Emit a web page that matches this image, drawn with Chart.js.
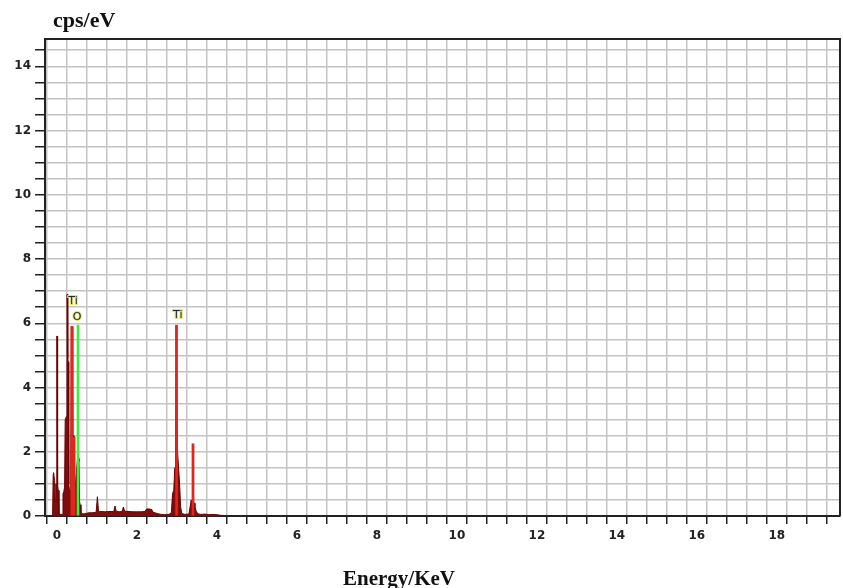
<!DOCTYPE html>
<html><head><meta charset="utf-8">
<style>html,body{margin:0;padding:0;background:#fff;overflow:hidden}#wrap{width:843px;height:588px;position:relative}</style>
<script src="https://cdn.jsdelivr.net/npm/chart.js@4"></script>
</head><body><div id="wrap"><canvas id="c" width="843" height="588"></canvas></div>
<script>
// Spectrum (energy in keV, counts in cps/eV)
const energy = [-0.30,-0.11,-0.095,-0.085,-0.06,-0.045,-0.03,-0.015,-0.005,0.005,
  0.015,0.03,0.05,0.13,0.15,0.17,0.19,0.205,0.215,0.235,
  0.25,0.26,0.27,0.28,0.29,0.30,0.31,0.33,0.345,0.36,
  0.38,0.395,0.41,0.425,0.44,0.46,0.48,0.50,0.515,0.535,
  0.55,0.565,0.58,0.60,0.65,0.72,0.80,0.90,0.98,1.01,
  1.025,1.04,1.10,1.20,1.30,1.42,1.45,1.48,1.55,1.63,
  1.66,1.69,1.80,1.90,2.00,2.10,2.20,2.24,2.30,2.37,
  2.40,2.50,2.60,2.70,2.80,2.86,2.89,2.92,2.945,2.965,
  2.98,2.995,3.01,3.025,3.045,3.07,3.09,3.12,3.20,3.30,
  3.33,3.355,3.38,3.395,3.405,3.415,3.43,3.45,3.48,3.52,
  3.60,3.70,3.80,3.90,4.00,4.10,4.30,5.0,6.0,8.0,
  10.0,12.0,14.0,16.0,18.0,19.58];
const cps = [0,0,1.3,1.35,1.1,0.4,1.0,1.0,5.6,5.6,
  1.0,0.8,0.05,0.05,0.7,0.75,0.9,3.0,3.0,3.1,
  6.9,6.9,4.9,4.8,1.2,1.0,0.8,0.8,1.6,5.9,
  5.9,2.5,2.5,2.4,1.2,0.9,1.3,1.3,1.8,1.8,
  1.7,0.45,0.35,0.1,0.06,0.08,0.1,0.1,0.12,0.6,
  0.6,0.13,0.14,0.13,0.14,0.14,0.31,0.15,0.13,0.14,
  0.28,0.15,0.14,0.13,0.13,0.13,0.14,0.22,0.22,0.2,
  0.12,0.08,0.05,0.04,0.05,0.1,0.7,0.8,1.5,1.5,
  5.94,5.94,2.1,2.1,1.4,0.9,0.3,0.08,0.05,0.06,
  0.3,0.5,0.35,2.2,2.2,0.45,0.4,0.3,0.15,0.07,
  0.05,0.06,0.04,0.05,0.04,0.02,0.01,0.01,0.01,0.01,
  0.01,0.01,0.01,0.01,0.01,0.01];

// Element marker lines
const tiLineEnergy = [0.37, 0.43, 2.99, 3.40];
const tiLineCps = [5.9, 2.45, 5.94, 2.25];
const oLineEnergy = [0.525];
const oLineCps = [5.94];

// Peak labels
const peakLabels = ['Ti', 'O', 'Ti'];
const peakLabelEnergy = [0.40, 0.50, 3.02];
const peakLabelCps = [6.69, 6.19, 6.25];

// Axis ticks (every 0.5, labelled every 2)
const xTickValues = [];
for (let i = 0; i <= 39; i++) xTickValues.push(i * 0.5);
const yTickValues = [];
for (let i = 0; i <= 29; i++) yTickValues.push(i * 0.5);

const yTitle = 'cps/eV';
const xTitle = 'Energy/KeV';

const toXY = (xs, ys) => xs.map((x, i) => ({x: x, y: ys[i]}));
const isMajor = v => Math.abs(v - Math.round(v / 2) * 2) < 1e-6;
const tickFont = {family: 'DejaVu Sans', weight: 'bold', size: 12};

const framePlugin = {
  id: 'frame',
  afterDraw(chart) {
    const {ctx, chartArea: a} = chart;
    ctx.save();
    ctx.strokeStyle = '#222';
    ctx.lineWidth = 2;
    ctx.beginPath();
    ctx.moveTo(a.left, a.top);
    ctx.lineTo(a.right, a.top);
    ctx.lineTo(a.right, a.bottom);
    ctx.stroke();
    ctx.restore();
  }
};

const textPlugin = {
  id: 'texts',
  afterDraw(chart) {
    const {ctx, scales} = chart;
    ctx.save();
    ctx.fillStyle = '#111';
    ctx.textBaseline = 'alphabetic';
    ctx.textAlign = 'left';
    ctx.font = 'bold 22px "Liberation Serif"';
    ctx.fillText(yTitle, 53, 27);
    ctx.font = 'bold 21px "Liberation Serif"';
    ctx.fillText(xTitle, 343, 585);
    ctx.font = '11px "DejaVu Sans"';
    ctx.textAlign = 'center';
    ctx.textBaseline = 'middle';
    peakLabels.forEach((t, i) => {
      const px = scales.x.getPixelForValue(peakLabelEnergy[i]);
      const py = scales.y.getPixelForValue(peakLabelCps[i]);
      ctx.lineWidth = 2;
      ctx.strokeStyle = '#e4e46a';
      ctx.strokeText(t, px, py);
      ctx.fillStyle = '#1d2b2b';
      ctx.fillText(t, px, py);
    });
    ctx.restore();
  }
};

new Chart(document.getElementById('c'), {
  type: 'line',
  data: {
    datasets: [
      {type: 'bar', label: 'O', data: toXY(oLineEnergy, oLineCps), backgroundColor: '#3ef03e',
       barThickness: 2, grouped: false, order: 0},
      {type: 'bar', label: 'Ti', data: toXY(tiLineEnergy, tiLineCps), backgroundColor: '#e2261b',
       barThickness: 2, grouped: false, order: 1},
      {type: 'line', label: 'Spectrum', data: toXY(energy, cps), borderColor: '#6a0000', borderWidth: 1,
       backgroundColor: '#7f0d0d', fill: 'origin', pointRadius: 0, tension: 0, order: 2}
    ]
  },
  options: {
    responsive: false,
    animation: false,
    layout: {padding: {top: 39, right: 3, bottom: 0, left: 0}},
    plugins: {legend: {display: false}, tooltip: {enabled: false}, title: {display: false}},
    scales: {
      x: {
        type: 'linear', min: -0.3, max: 19.58, offset: false,
        afterBuildTicks: s => { s.ticks = xTickValues.map(v => ({value: v})); },
        ticks: {autoSkip: false, maxRotation: 0, minRotation: 0,
          callback: v => isMajor(v) ? String(Math.round(v)) : '',
          font: tickFont, color: '#222', padding: 5},
        grid: {color: '#c4c4c4', lineWidth: 1.5, tickColor: '#222', tickLength: 8, tickWidth: 1.5},
        border: {color: '#222', width: 2},
        afterFit: s => { s.height = 72; }
      },
      y: {
        type: 'linear', min: 0, max: 14.85,
        afterBuildTicks: s => { s.ticks = yTickValues.map(v => ({value: v})); },
        ticks: {autoSkip: false,
          callback: v => isMajor(v) ? String(Math.round(v)) : '',
          font: tickFont, color: '#222', padding: 4},
        grid: {color: '#c4c4c4', lineWidth: 1.5, tickColor: '#222', tickLength: 10, tickWidth: 1.5},
        border: {color: '#222', width: 2},
        afterFit: s => { s.width = 45; }
      }
    }
  },
  plugins: [framePlugin, textPlugin]
});
</script></body></html>
